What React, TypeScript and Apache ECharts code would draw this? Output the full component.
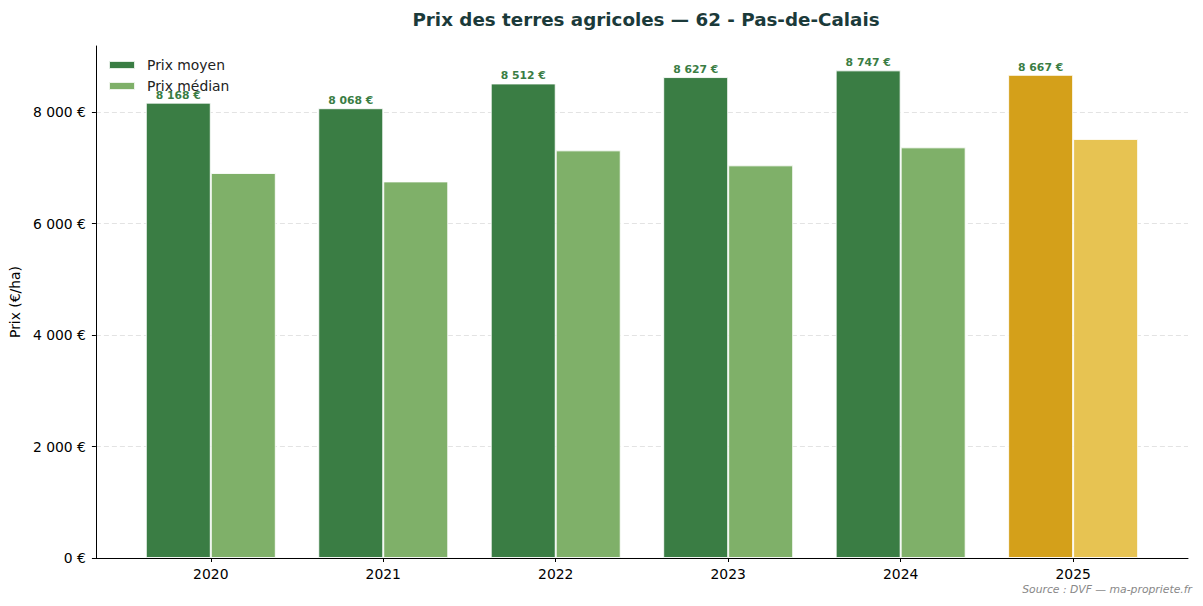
import React, { useEffect, useRef } from "react";
import * as echarts from "echarts";

const years = ["2020", "2021", "2022", "2023", "2024", "2025"];
const prixMoyen = [8168, 8068, 8512, 8627, 8747, 8667];
const prixMedian = [6906, 6755, 7312, 7043, 7366, 7517];
const yTicks = [0, 2000, 4000, 6000, 8000];
const highlightYear = "2025";

const fmt = (v: number) => {
  const s = Math.round(v).toString().replace(/\B(?=(\d{3})+(?!\d))/g, " ");
  return s + " €";
};

export default function App() {
  const ref = useRef<HTMLDivElement>(null);
  useEffect(() => {
    if (!ref.current) return;
    const chart = echarts.init(ref.current, undefined, { renderer: "svg" });
    const font = "DejaVu Sans";
    const meanData = years.map((y, i) => ({
      value: [i, prixMoyen[i]],
      itemStyle: y === highlightYear ? { color: "#d4a01a" } : undefined,
    }));
    const medData = years.map((y, i) => ({
      value: [i, prixMedian[i]],
      itemStyle: y === highlightYear ? { color: "#e7c352" } : undefined,
    }));
    chart.setOption({
      animation: false,
      backgroundColor: "#ffffff",
      textStyle: { fontFamily: font },
      title: {
        text: "Prix des terres agricoles — 62 - Pas-de-Calais",
        left: 641,
        textAlign: "center",
        top: 5,
        textStyle: { fontFamily: font, fontSize: 18.3, fontWeight: "bold", color: "#1b3a3a" },
      },
      legend: {
        orient: "vertical",
        left: 108,
        top: 58,
        padding: 0,
        itemWidth: 26,
        itemHeight: 8,
        itemGap: 7,
        icon: "rect",
        textStyle: { fontFamily: font, fontSize: 13.9, color: "#222", padding: [0, 0, 0, 7] },
        data: ["Prix moyen", "Prix médian"],
      },
      grid: { left: 95, right: 15, top: 46, bottom: 48, containLabel: false },
      xAxis: {
        type: "value",
        min: -0.666,
        max: 5.666,
        splitLine: { show: false },
        axisLine: { show: true, onZero: false, lineStyle: { color: "#000", width: 1 } },
        axisTick: { show: true, length: 4, customValues: years.map((_, i) => i), lineStyle: { color: "#000" } },
        axisLabel: {
          customValues: years.map((_, i) => i),
          formatter: (v: number) => years[Math.round(v)] ?? "",
          fontFamily: font,
          fontSize: 13.9,
          color: "#000",
          margin: 9,
        },
      },
      yAxis: {
        type: "value",
        min: 0,
        max: 9184,
        name: "Prix (€/ha)",
        nameLocation: "middle",
        nameGap: 72,
        nameTextStyle: { fontFamily: font, fontSize: 13.9, color: "#000" },
        axisLine: { show: true, onZero: false, lineStyle: { color: "#000", width: 1 } },
        axisTick: { show: true, length: 4, customValues: yTicks, lineStyle: { color: "#000" } },
        axisLabel: {
          customValues: yTicks,
          formatter: (v: number) => fmt(v),
          fontFamily: font,
          fontSize: 13.9,
          color: "#000",
          margin: 10,
        },
        splitLine: { show: true, lineStyle: { color: "#dcdcdc", type: [5, 3], width: 0.8 } },
      },
      series: [
        {
          name: "Prix moyen",
          type: "bar",
          barWidth: 65,
          barGap: "0%",
          data: meanData,
          itemStyle: { color: "#3a7d44", borderColor: "rgba(255,255,255,0.85)", borderWidth: 1 },
          label: {
            show: true,
            position: "top",
            distance: 2,
            formatter: (p: any) => fmt(p.value[1]),
            fontFamily: font,
            fontSize: 10.8,
            fontWeight: "bold",
            color: "#3a7d44",
          },
        },
        {
          name: "Prix médian",
          type: "bar",
          barWidth: 65,
          barGap: "0%",
          data: medData,
          itemStyle: { color: "#7fb069", borderColor: "rgba(255,255,255,0.85)", borderWidth: 1 },
        },
      ],
      graphic: [
        {
          type: "text",
          right: 11,
          top: 584,
          style: {
            text: "Source : DVF — ma-propriete.fr",
            fontFamily: font,
            fontSize: 10.8,
            fontStyle: "italic",
            fill: "#888888",
          },
        },
      ],
    });
    return () => chart.dispose();
  }, []);
  return (
    <div
      ref={ref}
      style={{ position: "absolute", left: 0, top: 0, width: 1203, height: 606, background: "#fff" }}
    />
  );
}
